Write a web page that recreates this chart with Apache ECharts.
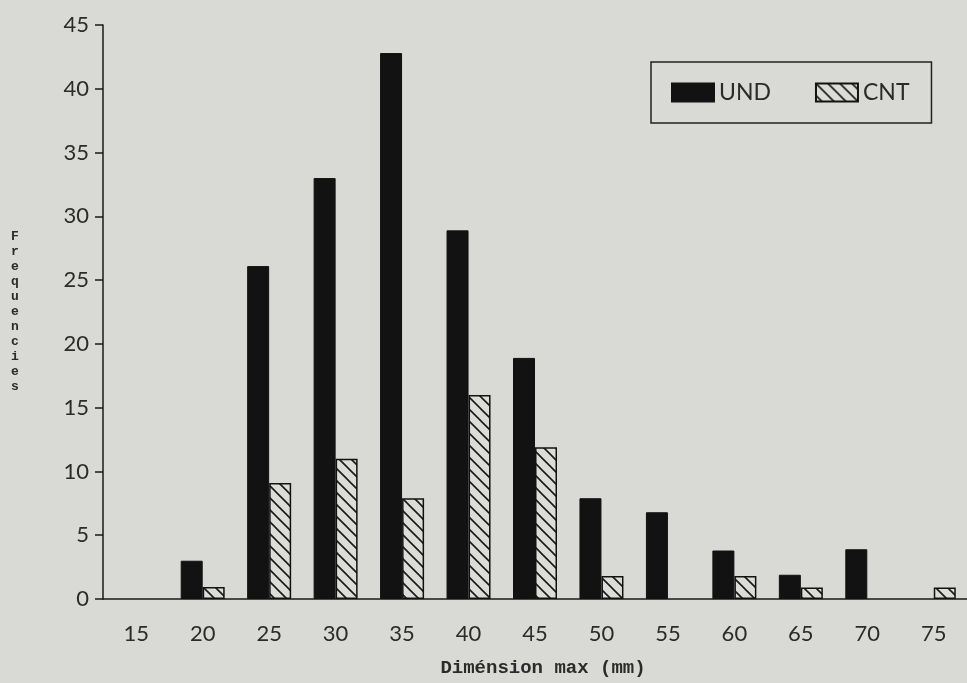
<!DOCTYPE html>
<html>
<head>
<meta charset="utf-8">
<script src="https://cdn.jsdelivr.net/npm/echarts@6/dist/echarts.min.js"></script>
<style>
html,body{margin:0;padding:0;background:#d9d9d6;}
#chart{width:967px;height:683px;}
</style>
</head>
<body>
<div id="chart"></div>
<script>
const categories = ['15','20','25','30','35','40','45','50','55','60','65','70','75'];
const undValues = [0, 3, 26.1, 33, 42.8, 28.9, 18.9, 7.9, 6.8, 3.8, 1.9, 3.9, 0];
const cntValues = [0, 0.95, 9.1, 11, 7.9, 16, 11.9, 1.8, 0, 1.8, 0.9, 0, 0.9];
const yTicks = [0, 45, 5]; // min, max, interval

function hatch() {
  const s = 12;
  const c = document.createElement('canvas');
  c.width = s; c.height = s;
  const g = c.getContext('2d');
  g.fillStyle = '#dcdcd9';
  g.fillRect(0, 0, s, s);
  g.strokeStyle = '#1a1a1a';
  g.lineWidth = 1.6;
  g.beginPath();
  g.moveTo(-2, -2); g.lineTo(s + 2, s + 2);
  g.moveTo(-2 - s, -2); g.lineTo(2, s + 2);
  g.moveTo(s - 2, -2); g.lineTo(2 * s + 2, s + 2);
  g.stroke();
  return c;
}
const nz = v => (v === 0 ? null : v);

const chart = echarts.init(document.getElementById('chart'), null, {renderer: 'canvas'});
const textColor = '#2b2b2b';
chart.setOption({
  backgroundColor: '#d9d9d6',
  animation: false,
  grid: {left: 103, right: 0, top: 25, bottom: 81, containLabel: false},
  legend: {
    left: 651, top: 62,
    orient: 'horizontal',
    padding: [19, 22, 19, 20],
    borderColor: '#222',
    borderWidth: 1.5,
    icon: 'rect',
    itemWidth: 42, itemHeight: 18, itemGap: 44,
    textStyle: {fontFamily: 'Lato', fontSize: 23, color: textColor},
    data: ['UND', 'CNT']
  },
  xAxis: {
    type: 'category',
    data: categories,
    boundaryGap: true,
    axisLine: {lineStyle: {color: '#1a1a1a', width: 1.5}},
    axisTick: {alignWithLabel: true, length: 9, lineStyle: {color: '#1a1a1a', width: 1.5}},
    axisLabel: {fontFamily: 'Lato', fontSize: 22, color: textColor, margin: 24},
    name: 'Diménsion max (mm)',
    nameLocation: 'middle',
    nameGap: 60,
    nameTextStyle: {fontFamily: 'Liberation Mono', fontWeight: 'bold', fontSize: 19, color: textColor, padding: [0, 0, 0, 16]}
  },
  yAxis: {
    type: 'value',
    min: yTicks[0], max: yTicks[1], interval: yTicks[2],
    splitLine: {show: false},
    axisLine: {show: true, lineStyle: {color: '#1a1a1a', width: 1.5}},
    axisTick: {show: true, length: 8, lineStyle: {color: '#1a1a1a', width: 1.5}},
    axisLabel: {fontFamily: 'Lato', fontSize: 22, color: textColor, margin: 14},
    name: 'Frequencies'.split('').join('\n'),
    nameLocation: 'middle',
    nameRotate: 0,
    nameGap: 88,
    nameTextStyle: {fontFamily: 'Liberation Mono', fontWeight: 'bold', fontSize: 13, lineHeight: 15, color: textColor, align: 'center'}
  },
  series: [
    {
      name: 'UND', type: 'bar', data: undValues.map(nz),
      barWidth: 22, barGap: '0%',
      itemStyle: {color: '#121212', borderColor: '#121212', borderWidth: 1}
    },
    {
      name: 'CNT', type: 'bar', data: cntValues.map(nz),
      barWidth: 22, barGap: '0%',
      itemStyle: {color: {image: hatch(), repeat: 'repeat'}, borderColor: '#121212', borderWidth: 1.5}
    }
  ]
});
</script>
</body>
</html>
